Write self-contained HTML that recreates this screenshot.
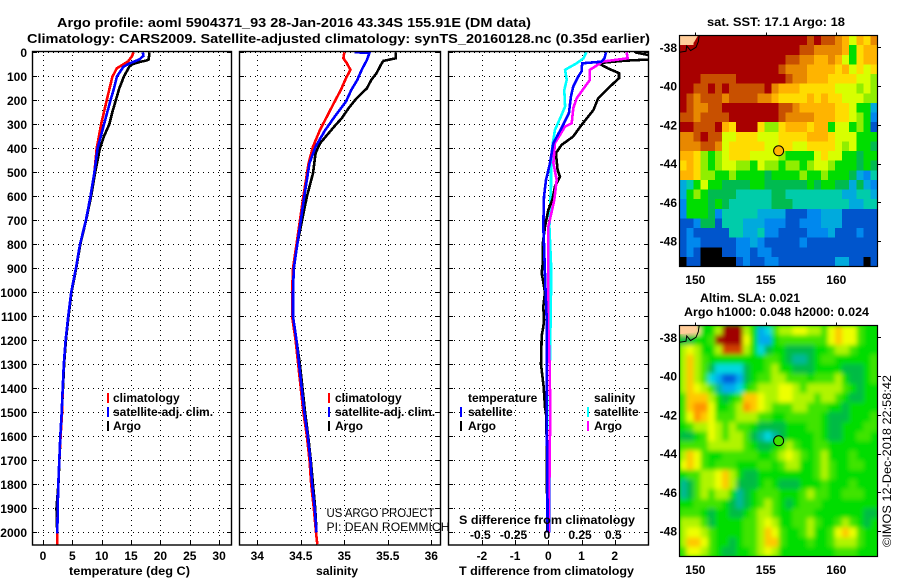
<!DOCTYPE html>
<html>
<head>
<meta charset="utf-8">
<title>Argo profile</title>
<style>
html,body{margin:0;padding:0;background:#fff;}
svg{display:block;}
text{font-family:"Liberation Sans",sans-serif;font-size:12px;font-weight:bold;fill:#000;}
.reg{font-weight:normal;}
</style>
</head>
<body>
<svg id="chart" xmlns="http://www.w3.org/2000/svg" width="900" height="580" viewBox="0 0 900 580">
  <defs>
    <clipPath id="clip-t"><rect x="33" y="52" width="198" height="493"/></clipPath>
    <clipPath id="clip-s"><rect x="240" y="52" width="200" height="493"/></clipPath>
    <clipPath id="clip-d"><rect x="449" y="52" width="199" height="493"/></clipPath>
    <clipPath id="clip-sst"><rect x="679.5" y="35.5" width="198" height="231"/></clipPath>
    <clipPath id="clip-sla"><rect x="679.5" y="325.5" width="198" height="231"/></clipPath>
    <filter id="sla-blur" x="-5%" y="-5%" width="110%" height="110%"><feGaussianBlur stdDeviation="2.5"/></filter>
  </defs>
  <rect x="0" y="0" width="900" height="580" fill="#fff"/>

  <text x="57" y="27" font-size="13" style="font-size:13px" textLength="474" lengthAdjust="spacingAndGlyphs">Argo profile: aoml 5904371_93 28-Jan-2016 43.34S 155.91E (DM data)</text>
  <text x="27" y="43" style="font-size:13px" textLength="623" lengthAdjust="spacingAndGlyphs">Climatology: CARS2009. Satellite-adjusted climatology: synTS_20160128.nc (0.35d earlier)</text>

  <g id="p-grid"></g>
  <g id="p-t" clip-path="url(#clip-t)"></g>
  <g id="p-s" clip-path="url(#clip-s)"></g>
  <g id="p-d" clip-path="url(#clip-d)"></g>
  <g id="p-axes"></g>

  <g>
    <rect x="107" y="393" width="2" height="10" fill="#f00"/>
    <text x="113" y="402">climatology</text>
    <rect x="107" y="407" width="2" height="10" fill="#00f"/>
    <text x="113" y="416">satellite-adj. clim.</text>
    <rect x="107" y="421" width="2" height="10" fill="#000"/>
    <text x="113" y="430">Argo</text>
  </g>
  <g>
    <rect x="328" y="393" width="2" height="10" fill="#f00"/>
    <text x="335" y="402">climatology</text>
    <rect x="328" y="407" width="2" height="10" fill="#00f"/>
    <text x="335" y="416">satellite-adj. clim.</text>
    <rect x="328" y="421" width="2" height="10" fill="#000"/>
    <text x="335" y="430">Argo</text>
  </g>
  <g>
    <text x="468" y="402">temperature</text>
    <rect x="460" y="407" width="2" height="10" fill="#00f"/>
    <text x="468" y="416">satellite</text>
    <rect x="460" y="421" width="2" height="10" fill="#000"/>
    <text x="468" y="430">Argo</text>
    <text x="594" y="402">salinity</text>
    <rect x="587" y="407" width="2" height="10" fill="#0ff"/>
    <text x="594" y="416">satellite</text>
    <rect x="587" y="421" width="2" height="10" fill="#f0f"/>
    <text x="594" y="430">Argo</text>
  </g>

  <text class="reg" x="326.5" y="517" textLength="108" lengthAdjust="spacingAndGlyphs">US ARGO PROJECT</text>
  <text class="reg" x="326.5" y="531" textLength="123" lengthAdjust="spacingAndGlyphs">PI: DEAN ROEMMICH</text>
  <text x="459" y="524" textLength="176" lengthAdjust="spacingAndGlyphs">S difference from climatology</text>

  <text x="69" y="575" textLength="121" lengthAdjust="spacingAndGlyphs">temperature (deg C)</text>
  <text x="316" y="575" textLength="42" lengthAdjust="spacingAndGlyphs">salinity</text>
  <text x="459" y="575" textLength="175" lengthAdjust="spacingAndGlyphs">T difference from climatology</text>

  <text x="707" y="26" textLength="138" lengthAdjust="spacingAndGlyphs">sat. SST: 17.1 Argo: 18</text>
  <text x="700" y="302" textLength="100" lengthAdjust="spacingAndGlyphs">Altim. SLA: 0.021</text>
  <text x="684" y="316" textLength="185" lengthAdjust="spacingAndGlyphs">Argo h1000: 0.048 h2000: 0.024</text>

  <g id="m-sst" clip-path="url(#clip-sst)"></g>
  <g id="m-sla-clip" clip-path="url(#clip-sla)"></g>
  <g id="m-axes"></g>

  <text class="reg" transform="translate(891,547) rotate(-90)" x="0" y="0" textLength="172" lengthAdjust="spacingAndGlyphs">©IMOS 12-Dec-2018 22:58:42</text>
</svg>

<script>
// ---- axis tick values ----
const depthTicks = [0,100,200,300,400,500,600,700,800,900,1000,1100,1200,1300,1400,1500,1600,1700,1800,1900,2000];
const tempTicks = [0,5,10,15,20,25,30];
const salTicks = [34,34.5,35,35.5,36];
const dtTicks = [-2,-1,0,1,2];
const dsTicks = [-0.5,-0.25,0,0.25,0.5];
const lonTicks = [150,155,160];
const latTicks = [-38,-40,-42,-44,-46,-48];

// ---- temperature profile ----
const tArgoDepth = [0,10,30,35,40,50,60,100,150,200,250,300,350,400,500,600,700,800,900,1000,1100,1200,1300,1400,1500,1600,1700,1800,1900,2000];
const tArgo = [18.1,18.1,18.0,17.5,16.5,15.2,14.7,13.8,13.0,12.4,11.8,11.3,10.4,9.7,8.9,8.2,7.35,6.35,5.65,4.85,4.35,3.9,3.6,3.4,3.2,3.0,2.8,2.62,2.3,2.42];
const tSatDepth = [0,15,30,46,60,100,150,200,300,400,500,600,700,800,900,1000,1100,1200,1300,1400,1500,1600,1700,1800,1900,2005];
const tSat = [17.0,17.1,16.4,14.8,13.7,12.6,12.1,11.5,10.4,9.3,8.75,8.1,7.3,6.3,5.6,4.8,4.3,3.85,3.55,3.35,3.18,2.95,2.78,2.6,2.5,2.44];
const tClimDepth = [0,15,38,67,103,200,300,400,500,600,700,800,900,1000,1100,1200,1300,1400,1500,1600,1700,1800,1900,2000,2050];
const tClim = [15.4,15.2,14.5,12.55,11.8,10.85,9.9,9.15,8.75,8.1,7.3,6.3,5.6,4.8,4.3,3.85,3.55,3.35,3.25,3.0,2.78,2.6,2.5,2.44,2.42];

// ---- salinity profile ----
const sArgoDepth = [0,25,36,46,87,115,150,192,233,275,303,337,380,420,504,601,726,800,900,1000,1100,1200,1300,1400,1500,1600,1700,1800,1900,2000];
const sArgo = [35.59,35.59,35.45,35.43,35.37,35.31,35.26,35.14,35.05,34.97,34.9,34.82,34.72,34.67,34.64,34.57,34.5,34.46,34.42,34.41,34.41,34.45,34.49,34.52,34.55,34.585,34.615,34.64,34.665,34.68];
const sSatDepth = [0,2,32,73,115,157,205,268,324,393,462,600,726,800,900,1000,1100,1200,1300,1400,1500,1600,1700,1800,1900,2000];
const sSat = [35.12,35.29,35.26,35.2,35.15,35.08,35.02,34.89,34.78,34.67,34.6,34.54,34.49,34.46,34.42,34.41,34.41,34.45,34.48,34.51,34.54,34.58,34.61,34.63,34.66,34.68];
const sClimDepth = [0,25,46,73,108,157,205,254,324,393,462,600,726,800,900,1000,1100,1200,1300,1400,1500,1600,1700,1800,1900,2000,2050];
const sClim = [35.0,34.99,35.03,35.07,35.02,34.96,34.89,34.82,34.72,34.64,34.59,34.53,34.48,34.45,34.41,34.4,34.4,34.44,34.47,34.5,34.53,34.57,34.6,34.62,34.65,34.675,34.69];

// ---- difference from climatology ----
const dtArgoDepth = [0,8,15,30,35,45,67,87,108,150,192,240,303,351,386,420,490,518,560,615,657,726,800,880,920,1000,1060,1115,1145,1180,1300,1395,1480,1500,1600,1800,2000];
const dtArgo = [2.61,2.9,3.1,3.05,2.3,1.5,1.8,2.13,2.13,1.8,1.5,1.36,1.0,0.75,0.4,0.23,0.28,0.35,0.2,0.12,0,-0.1,-0.17,-0.17,-0.2,-0.1,-0.15,-0.13,-0.15,-0.2,-0.22,-0.14,-0.1,-0.07,-0.05,-0.04,-0.03];
const dtSatDepth = [0,25,39,46,80,101,143,185,254,310,379,462,532,601,726,800,1000,1100,1300,1530,1700,2000];
const dtSat = [1.74,1.69,1.6,1.02,1.0,0.9,0.75,0.68,0.62,0.42,0.15,0.05,-0.07,-0.13,-0.15,-0.13,-0.08,-0.05,-0.05,-0.05,-0.03,-0.02];
const dsArgoDepth = [0,25,39,46,73,115,143,192,233,296,310,379,462,532,615,640,726,800,1000,1100,1300,1500,1700,2000];
const dsArgo = [0.589,0.597,0.4,0.39,0.313,0.313,0.276,0.213,0.188,0.176,0.125,0.05,0.038,0.063,0.045,0.035,0.0,0.0,0.0,-0.002,0.01,0.015,0.01,0.005];
const dsSatDepth = [0,25,46,73,115,157,226,261,324,393,462,560,726,880,1000,1300,1500,1800,2000];
const dsSat = [0.286,0.265,0.213,0.126,0.138,0.12,0.126,0.1,0.05,0.03,0.02,0.02,0.008,0.02,0.02,0.012,0.01,0.01,0.01];

// ---- map grids: one colour-class character per cell, spaces are ignored ----
const sstGrid = [
"pp00000000 0000000010 11235342",
"0000000000 0000000112 22237433",
"0000000000 0000011223 32357433",
"0000000000 0000122233 33435454",
"0001111100 0000012233 34444556",
"0011010111 1102333444 44555656",
"0121112111 1223444434 34455566",
"0122110000 0000112333 3344577a",
"1121111000 0000122223 3344567b",
"0011103400 0466433343 3755767c",
"2210115544 4555444433 34555777",
"2221125444 4455445544 44565778",
"3346765444 5555677775 45577877",
"4346765566 7566766765 56777878",
"3346677677 7787777677 67778ab9",
"a975778888 7788888878 7788a8ab",
"a767888899 9998899999 999aa99a",
"b777878999 9998889999 9999aa99",
"b7778b9999 9aaaacccbb aaaccccc",
"ccb88c999a aabbbccbbb aaaccccc",
"cbccccc99a a9bbccccbb bacccbcc",
"cbbcccccbb abcccccbcc cccccccc",
"cbckkkccbb cbbccccccc cccccccc",
"kcckkkkkcb ccbbcccccc ccaacckc"
];
const slaGrid = [
"ppp7750005 7bd6554455 64344677",
"8877600004 7bb7666666 64344677",
"5457751115 7d87788887 76556777",
"5356777777 7766789987 66777776",
"53568dddd8 7765778887 77788876",
"5356dbccb8 7665566676 66578876",
"534569bbd7 6555445655 55567877",
"6333578763 3455445556 55678877",
"6322477652 3456665566 67787777",
"6423466655 5667766666 78887776",
"7655456566 7888877766 78877766",
"8876456556 89d9877776 78877667",
"6666555556 7887656776 67777777",
"5346776666 6776545676 57776777",
"4346766677 7667655776 56776677",
"7665543578 8777777776 56777777",
"9865543588 8767888777 67776777",
"9865655798 7666777656 67766677",
"7766667898 7656787666 77777777",
"6667877887 6556776667 77777788",
"5556877776 6545776656 77656787",
"5445677776 6534677657 76434677",
"5334677876 6533677767 76555677",
"6445678877 6545777777 77666777"
];
const sstColours = {p:'#ffcc99',0:'#a80000',1:'#c85000',2:'#e88800',3:'#ffb400',4:'#ffdc00',5:'#d8ff00',6:'#90ee00',7:'#00dd00',8:'#00bb50',9:'#00ccaa',a:'#00aadd',b:'#0088ee',c:'#0055cc',k:'#000000'};
const slaColours = {p:'#ffcc99',0:'#a00000',1:'#d04000',2:'#ff9400',3:'#ffc800',4:'#eeff00',5:'#b0f400',6:'#40e400',7:'#00dd00',8:'#00bb44',9:'#00b899',d:'#00d8e0',b:'#00aaee',c:'#0060dd'};
const coastLon = [148.87,149.34,149.39,149.67,150.05,150.21,150.28];
const coastLat = [-38.26,-38.2,-37.93,-38.17,-38,-37.71,-37.38];
const floatLon = [155.91];
const floatLat = [-43.34];

// ---- scales ----
const NS = 'http://www.w3.org/2000/svg';
const yDepth = d => 52.3 + 0.24 * d;
const xTemp = v => 43 + 5.87 * v;
const xSal = v => 344.3 + 87 * (v - 35);
const xDT = v => 548.3 + 33.2 * v;
const xDS = v => 548.3 + 133 * v;
const panels = [[33,231],[240,440],[449,648]];
const lonX = v => 695.3 + 14.1 * (v - 150);
const latYsst = v => 47.3 + 19.375 * (-38 - v);
const latYsla = v => 337.3 + 19.375 * (-38 - v);

function make(tag, attrs, parent, txt) {
  const e = document.createElementNS(NS, tag);
  for (const k in attrs) e.setAttribute(k, attrs[k]);
  if (txt !== undefined) e.textContent = txt;
  parent.appendChild(e);
  return e;
}
const $ = id => document.getElementById(id);
const pGrid = $('p-grid'), pAxes = $('p-axes'), mAxes = $('m-axes');

// ---- profile grids, frames and ticks ----
const vTicks = [tempTicks.map(xTemp), salTicks.map(xSal), dtTicks.map(xDT)];
const panelNames = ['temperature','salinity','difference'];
panels.forEach(function(p, i) {
  depthTicks.forEach(function(d) {
    const y = Math.round(yDepth(d)) + 0.5;
    const g = make('line', {x1:p[0],x2:p[1],y1:y,y2:y,stroke:'#000','stroke-width':1,'stroke-dasharray':'1 4','shape-rendering':'crispEdges'}, pGrid);
    
    
    const a = make('line', {x1:p[0],x2:p[0]+4,y1:y,y2:y,stroke:'#000','stroke-width':1,'shape-rendering':'crispEdges'}, pAxes);
    
    
    const b = make('line', {x1:p[1]-4,x2:p[1],y1:y,y2:y,stroke:'#000','stroke-width':1,'shape-rendering':'crispEdges'}, pAxes);
    
    
  });
  vTicks[i].forEach(function(x0) {
    const x = Math.round(x0) + 0.5;
    const g = make('line', {x1:x,x2:x,y1:52,y2:545,stroke:'#000','stroke-width':1,'stroke-dasharray':'1 4','stroke-dashoffset':'2','shape-rendering':'crispEdges'}, pGrid);
    
    
    const t = make('line', {x1:x,x2:x,y1:541,y2:545,stroke:'#000','stroke-width':1,'shape-rendering':'crispEdges'}, pAxes);
    
    
  });
  const f = make('rect', {x:p[0]-0.5,y:51.5,width:p[1]-p[0]+1,height:493.5,fill:'none',stroke:'#000','stroke-width':1.4}, pAxes);
  
  
});

// ---- tick labels ----
depthTicks.forEach(function(d) {
  const t = make('text', {x:27,y:yDepth(d)+4.5,'text-anchor':'end'}, pAxes, String(d));
  
  
});
tempTicks.forEach(function(v) {
  const t = make('text', {x:xTemp(v),y:560,'text-anchor':'middle'}, pAxes, String(v));
  
  
});
salTicks.forEach(function(v) {
  const t = make('text', {x:xSal(v),y:560,'text-anchor':'middle'}, pAxes, String(v));
  
  
});
dtTicks.forEach(function(v) {
  const t = make('text', {x:xDT(v),y:560,'text-anchor':'middle'}, pAxes, String(v));
  
  
});
dsTicks.forEach(function(v) {
  const t = make('text', {x:xDS(v)-1.5,y:539,'text-anchor':'middle'}, pAxes, String(v));
  
  
});

// ---- profile lines ----
function pointsOf(depths, vals, xf) {
  return depths.map(function(d, i) { return xf(vals[i]).toFixed(1) + ',' + yDepth(d).toFixed(1); }).join(' ');
}
function drawSeries(parent, depths, vals, xf, colour, width) {
  return make('polyline', {points:pointsOf(depths, vals, xf),fill:'none',stroke:colour,'stroke-width':width,'stroke-linejoin':'miter','shape-rendering':'crispEdges'}, parent);
}
const lineWidth = 2.6;
let ln;
ln = drawSeries($('p-t'), tArgoDepth, tArgo, xTemp, '#000', lineWidth);


ln = drawSeries($('p-t'), tClimDepth, tClim, xTemp, '#f00', lineWidth);


ln = drawSeries($('p-t'), tSatDepth, tSat, xTemp, '#00f', lineWidth);


ln = drawSeries($('p-s'), sArgoDepth, sArgo, xSal, '#000', lineWidth);


ln = drawSeries($('p-s'), sClimDepth, sClim, xSal, '#f00', lineWidth);


ln = drawSeries($('p-s'), sSatDepth, sSat, xSal, '#00f', lineWidth);


ln = drawSeries($('p-d'), dsSatDepth, dsSat, xDS, '#0ff', lineWidth);


ln = drawSeries($('p-d'), dtArgoDepth, dtArgo, xDT, '#000', lineWidth);


ln = drawSeries($('p-d'), dsArgoDepth, dsArgo, xDS, '#f0f', lineWidth);


ln = drawSeries($('p-d'), dtSatDepth, dtSat, xDT, '#00f', lineWidth);



// ---- maps ----
function drawGrid(parent, grid, colours, left, top, w, h, name) {
  const rows = grid.map(function(r) { return r.replace(/ /g, ''); });
  const rh = h / rows.length;
  rows.forEach(function(row, r) {
    const cw = w / row.length;
    row.split('').forEach(function(ch, c) {
      const cell = make('rect', {x:left+c*cw,y:top+r*rh,width:cw+0.6,height:rh+0.6,fill:colours[ch],'shape-rendering':'crispEdges'}, parent);
      
      
    });
  });
}
drawGrid($('m-sst'), sstGrid, sstColours, 679.5, 35.5, 198, 231, 'sst-cell');

const slaBack = make('rect', {x:679,y:325,width:199,height:232,fill:'#00dd00'}, $('m-sla-clip'));


const slaCells = make('g', {filter:'url(#sla-blur)'}, $('m-sla-clip'));


drawGrid(slaCells, slaGrid, slaColours, 679.5, 325.5, 198, 231, 'sla-cell');

[[$('m-sst'), latYsst, 'sst'], [$('m-sla-clip'), latYsla, 'sla']].forEach(function(m) {
  const pts = coastLon.map(function(v, i) { return lonX(v).toFixed(1) + ',' + m[1](coastLat[i]).toFixed(1); }).join(' ');
  const land = make('polygon', {points:'679,' + (m[1](-37.38)) + ' ' + lonX(150.2).toFixed(1) + ',' + m[1](-37.38).toFixed(1) + ' ' + lonX(149.9).toFixed(1) + ',' + m[1](-37.75).toFixed(1) + ' ' + lonX(148.87).toFixed(1) + ',' + m[1](-37.85).toFixed(1),fill:'#ffcc99'}, m[0]);
  
  
  const coast = make('polyline', {points:pts,fill:'none',stroke:'#000','stroke-width':1}, m[0]);
  
  
  const marker = make('circle', {cx:lonX(floatLon[0]),cy:m[1](floatLat[0]),r:5,fill:m[2]==='sst'?'#ffb400':'#40e000',stroke:'#000','stroke-width':1}, m[0]);
  
  
});

[[35.5, 266.5, 284, latYsst, 'sst'], [325.5, 556.5, 574, latYsla, 'sla']].forEach(function(m) {
  const frame = make('rect', {x:679.5,y:m[0],width:198,height:m[1]-m[0],fill:'none',stroke:'#000','stroke-width':1.2}, mAxes);
  
  
  lonTicks.forEach(function(v) {
    const x = Math.round(lonX(v)) + 0.5;
    const tk = make('line', {x1:x,x2:x,y1:m[0]-3,y2:m[0],stroke:'#000','stroke-width':1}, mAxes);
    
    
    const lb = make('text', {x:lonX(v),y:m[2],'text-anchor':'middle'}, mAxes, String(v));
    
    
  });
  latTicks.forEach(function(v) {
    const y = Math.round(m[3](v)) + 0.5;
    const tk = make('line', {x1:877.5,x2:881,y1:y,y2:y,stroke:'#000','stroke-width':1}, mAxes);
    
    
    const lb = make('text', {x:677,y:m[3](v)+4.5,'text-anchor':'end'}, mAxes, String(v));
    
    
  });
});
</script>
</body>
</html>
